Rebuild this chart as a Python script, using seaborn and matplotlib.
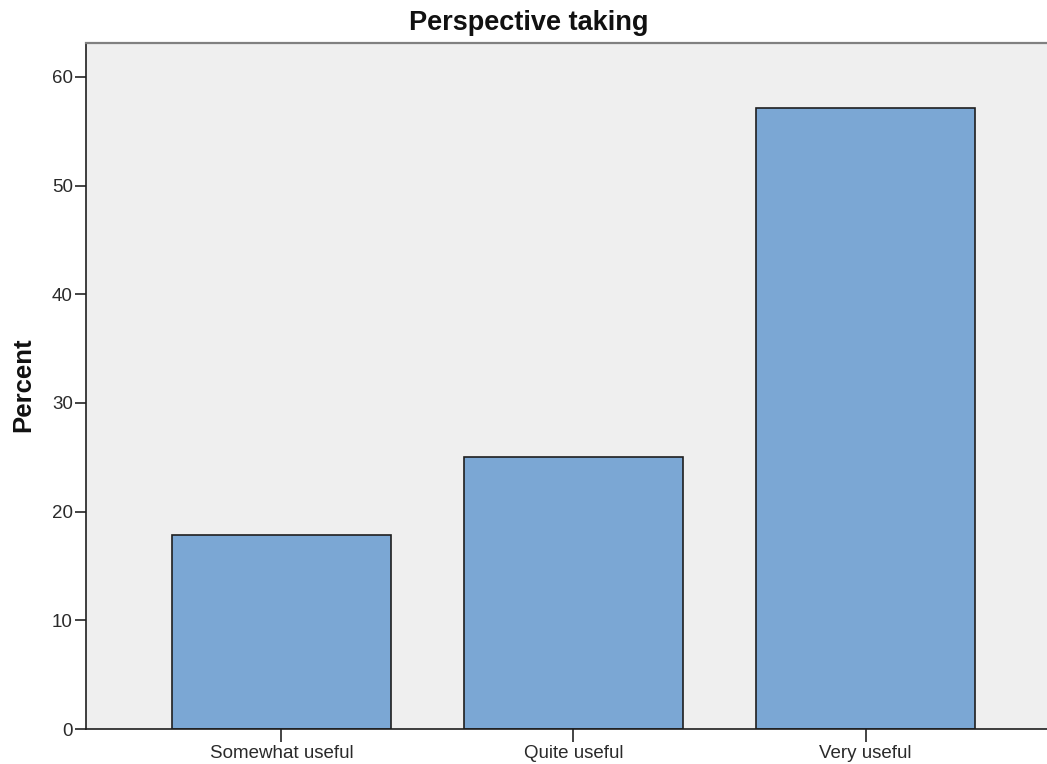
import matplotlib
matplotlib.use("Agg")
import matplotlib.pyplot as plt
import seaborn as sns
import pandas as pd

categories = ["Somewhat useful", "Quite useful", "Very useful"]
percent = [17.86, 25.0, 57.14]
y_ticks = [0, 10, 20, 30, 40, 50, 60]

W, H = 1047, 764

sns.set_style("white")
plt.rcParams["font.family"] = ["Liberation Sans", "DejaVu Sans"]

df = pd.DataFrame({"response": categories, "percent": percent})

fig = plt.figure(figsize=(W / 100, H / 100), dpi=100)
# plot frame runs past the right edge of the image, like the original export
left, right, top, bottom = 86, 1061, 42.5, 729
ax = fig.add_axes([left / W, (H - bottom) / H, (right - left) / W, (bottom - top) / H])
ax.set_facecolor("#efefef")

sns.barplot(data=df, x="response", y="percent", ax=ax, color="#7ba7d4",
            saturation=1, edgecolor="#1f1f1f", linewidth=1.2, width=0.75)

ax.set_xlim(-0.6695, 2.6695)
ax.set_ylim(0, 63.17)
ax.set_yticks(y_ticks)
ax.set_xlabel("")
ax.set_ylabel("")
ax.tick_params(axis="y", left=True, direction="out", length=8, width=1.1,
               labelsize=13.5, pad=1.5, color="#111111", labelcolor="#2a2a2a")
ax.tick_params(axis="x", bottom=True, direction="out", length=9, width=1.1,
               labelsize=13.5, pad=2.5, color="#111111", labelcolor="#2a2a2a")

for side in ["left", "bottom"]:
    ax.spines[side].set_color("#1f1f1f")
    ax.spines[side].set_linewidth(1.2)
ax.spines["top"].set_color("#808080")
ax.spines["top"].set_linewidth(1.6)
ax.spines["right"].set_visible(False)

fig.text(528.5 / W, 1 - 30 / H, "Perspective taking", ha="center", va="baseline",
         fontsize=19.5, fontweight="bold", color="#111111")
fig.text(23 / W, 1 - 385 / H, "Percent", ha="center", va="center",
         rotation=90, fontsize=18.5, fontweight="bold", color="#111111")

fig.savefig("out.png", dpi=100)
